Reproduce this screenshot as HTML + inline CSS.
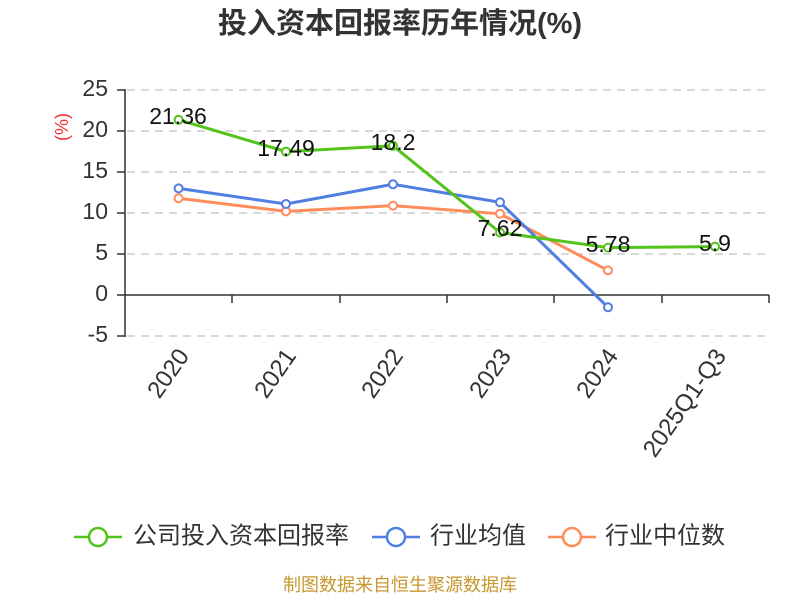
<!DOCTYPE html>
<html><head><meta charset="utf-8"><style>body{margin:0;background:#fff}</style></head><body>
<svg width="800" height="600" xmlns="http://www.w3.org/2000/svg" font-family="Liberation Sans, Noto Sans CJK SC, sans-serif">
<text x="400" y="33" text-anchor="middle" font-size="29" font-weight="bold" fill="#333">投入资本回报率历年情况(%)</text>
<g stroke="#ccc" stroke-dasharray="8,6" stroke-width="1.5">
<line x1="127" y1="90" x2="769" y2="90"/><line x1="127" y1="131" x2="769" y2="131"/><line x1="127" y1="172" x2="769" y2="172"/><line x1="127" y1="213" x2="769" y2="213"/><line x1="127" y1="254" x2="769" y2="254"/><line x1="127" y1="336" x2="769" y2="336"/>
</g>
<g stroke="#333" stroke-width="1.5">
<line x1="125" y1="89" x2="125" y2="337"/><line x1="125" y1="295" x2="769" y2="295"/>
<line x1="117" y1="90" x2="125" y2="90"/><line x1="117" y1="131" x2="125" y2="131"/><line x1="117" y1="172" x2="125" y2="172"/><line x1="117" y1="213" x2="125" y2="213"/><line x1="117" y1="254" x2="125" y2="254"/><line x1="117" y1="295" x2="125" y2="295"/><line x1="117" y1="336" x2="125" y2="336"/>
<line x1="232" y1="295" x2="232" y2="303"/><line x1="340" y1="295" x2="340" y2="303"/><line x1="447" y1="295" x2="447" y2="303"/><line x1="554" y1="295" x2="554" y2="303"/><line x1="662" y1="295" x2="662" y2="303"/><line x1="769" y1="295" x2="769" y2="303"/>
</g>
<g font-size="23" fill="#333" text-anchor="end" dominant-baseline="middle">
<text x="108" y="90">25</text><text x="108" y="131">20</text><text x="108" y="172">15</text><text x="108" y="213">10</text><text x="108" y="254">5</text><text x="108" y="295">0</text><text x="108" y="336">-5</text>
</g>
<text x="63" y="127" font-size="18" fill="#e33" text-anchor="middle" dominant-baseline="middle" transform="rotate(-90 63 127)">(%)</text>
<g font-size="24" fill="#333" text-anchor="end">
<text transform="translate(190,356) rotate(-55)">2020</text>
<text transform="translate(297,356) rotate(-55)">2021</text>
<text transform="translate(404,356) rotate(-55)">2022</text>
<text transform="translate(512,356) rotate(-55)">2023</text>
<text transform="translate(619,356) rotate(-55)">2024</text>
<text transform="translate(727,356) rotate(-55)">2025Q1-Q3</text>
</g>
<g fill="none" stroke-width="3">
<polyline stroke="#ff8c5a" points="178.6,198.2 286,211.4 393,205.6 500,213.8 608,270.4"/>
<polyline stroke="#4f7fe0" points="178.6,188.4 286,204 393,184.3 500,202.3 608,307.3"/>
<polyline stroke="#52c41a" points="178.6,119.8 286,151.6 393,145.8 500,232.5 608,247.6 715,246.6"/>
</g>
<g fill="#fff" stroke-width="2">
<g stroke="#ff8c5a"><circle cx="178.6" cy="198.2" r="4"/><circle cx="286" cy="211.4" r="4"/><circle cx="393" cy="205.6" r="4"/><circle cx="500" cy="213.8" r="4"/><circle cx="608" cy="270.4" r="4"/></g>
<g stroke="#4f7fe0"><circle cx="178.6" cy="188.4" r="4"/><circle cx="286" cy="204" r="4"/><circle cx="393" cy="184.3" r="4"/><circle cx="500" cy="202.3" r="4"/><circle cx="608" cy="307.3" r="4"/></g>
<g stroke="#52c41a"><circle cx="178.6" cy="119.8" r="4"/><circle cx="286" cy="151.6" r="4"/><circle cx="393" cy="145.8" r="4"/><circle cx="500" cy="232.5" r="4"/><circle cx="608" cy="247.6" r="4"/><circle cx="715" cy="246.6" r="4"/></g>
</g>
<g font-size="23" fill="#111" text-anchor="middle" dominant-baseline="middle">
<text x="178" y="118">21.36</text><text x="286" y="150">17.49</text><text x="393" y="144">18.2</text><text x="500" y="230">7.62</text><text x="608" y="246">5.78</text><text x="715" y="245">5.9</text>
</g>
<g stroke-width="2.5">
<line x1="74" y1="537" x2="122" y2="537" stroke="#52c41a"/><circle cx="98" cy="537" r="9" fill="#fff" stroke="#52c41a"/>
<line x1="372" y1="537" x2="420" y2="537" stroke="#4f7fe0"/><circle cx="396" cy="537" r="9" fill="#fff" stroke="#4f7fe0"/>
<line x1="548" y1="537" x2="596" y2="537" stroke="#ff8c5a"/><circle cx="572" cy="537" r="9" fill="#fff" stroke="#ff8c5a"/>
</g>
<g font-size="24" fill="#333" dominant-baseline="middle">
<text x="133" y="537">公司投入资本回报率</text><text x="430" y="537">行业均值</text><text x="605" y="537">行业中位数</text>
</g>
<text x="400" y="591" font-size="18" fill="#c9962f" text-anchor="middle">制图数据来自恒生聚源数据库</text>
</svg>
</body></html>
